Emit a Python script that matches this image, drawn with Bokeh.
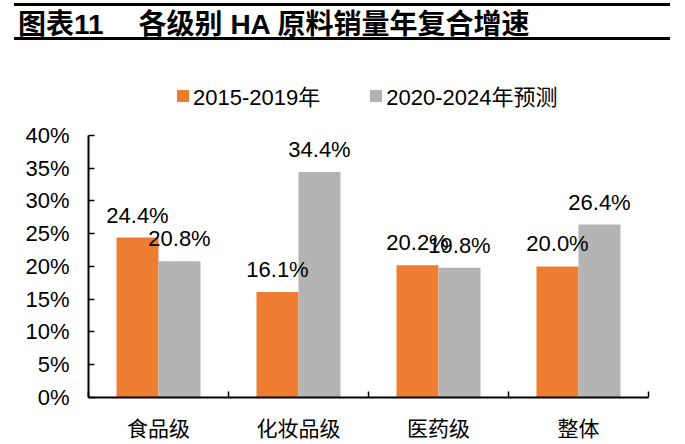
from bokeh.plotting import figure
from bokeh.models import (ColumnDataSource, FixedTicker, PrintfTickFormatter, LabelSet,
                          Legend, LegendItem, Div, Range1d)
from bokeh.layouts import column
from bokeh.core.properties import value
from bokeh.transform import dodge
from bokeh.embed import file_html
from bokeh.resources import INLINE

# ---------------- data ----------------
categories = ["食品级", "化妆品级", "医药级", "整体"]
series_names = ["2015-2019年", "2020-2024年预测"]
cagr_2015_2019 = [24.4, 16.1, 20.2, 20.0]
cagr_2020_2024 = [20.8, 34.4, 19.8, 26.4]
y_ticks = [0, 5, 10, 15, 20, 25, 30, 35, 40]
title_no = "图表11"
title_text = "各级别 HA 原料销量年复合增速"

# ---------------- style ----------------
ORANGE = "#ED7D31"
GRAY = "#B4B4B4"
FONT = "Liberation Sans, Noto Sans CJK SC"
Y_AXIS_MAX = 40
Y_VIEW_MAX = 49.6   # room above the axis for the legend

xs = [i + 0.5 for i in range(len(categories))]
src = ColumnDataSource(dict(
    x=xs,
    a=cagr_2015_2019,
    b=cagr_2020_2024,
    a_lbl=[f"{v:.1f}%" for v in cagr_2015_2019],
    b_lbl=[f"{v:.1f}%" for v in cagr_2020_2024],
))

p = figure(width=680, height=398,
           x_range=Range1d(0, len(categories)), y_range=Range1d(0, Y_VIEW_MAX),
           output_backend="svg", toolbar_location=None,
           min_border_left=88, min_border_right=32,
           min_border_top=26, min_border_bottom=46)
p.outline_line_color = None
p.xgrid.visible = False
p.ygrid.visible = False
p.background_fill_color = "white"
p.border_fill_color = "white"

r1 = p.vbar(x=dodge("x", -0.15), top="a", width=0.3, source=src,
            fill_color=ORANGE, line_color=None)
r2 = p.vbar(x=dodge("x", 0.15), top="b", width=0.3, source=src,
            fill_color=GRAY, line_color=None)

# y axis
ya = p.yaxis[0]
ya.ticker = FixedTicker(ticks=y_ticks)
ya.bounds = (0, Y_AXIS_MAX)
ya.formatter = PrintfTickFormatter(format="%d%%")
ya.axis_line_width = 2
ya.axis_line_color = "#000000"
ya.major_tick_in = 6
ya.major_tick_out = 0
ya.major_tick_line_width = 1.5
ya.major_tick_line_color = "#000000"
ya.minor_tick_line_color = None
ya.major_label_standoff = 19
ya.major_label_text_font = FONT
ya.major_label_text_font_size = "22px"
ya.major_label_text_color = "#000000"

# x axis: category labels at centres, tick marks at category boundaries
xa = p.xaxis[0]
xa.ticker = FixedTicker(ticks=xs, minor_ticks=list(range(len(categories) + 1)))
xa.major_label_overrides = {x: c for x, c in zip(xs, categories)}
xa.axis_line_width = 2
xa.axis_line_color = "#000000"
xa.major_tick_in = 0
xa.major_tick_out = 0
xa.major_tick_line_color = None
xa.minor_tick_in = 6
xa.minor_tick_out = 0
xa.minor_tick_line_width = 1.5
xa.minor_tick_line_color = "#000000"
xa.major_label_standoff = 14
xa.major_label_text_font = "Noto Sans CJK SC"
xa.major_label_text_font_size = "21px"
xa.major_label_text_color = "#000000"

# value labels
for col, lbl, off in (("a", "a_lbl", -0.15), ("b", "b_lbl", 0.15)):
    p.add_layout(LabelSet(x=dodge("x", off), y=col, text=lbl, source=src,
                          text_align="center", text_baseline="alphabetic",
                          y_offset=15, text_font=value(FONT),
                          text_font_size="22px", text_color="#000000"))

legend = Legend(items=[LegendItem(label=series_names[0], renderers=[r1]),
                       LegendItem(label=series_names[1], renderers=[r2])],
                location=(87, 286), orientation="horizontal",
                border_line_color=None, background_fill_alpha=0,
                padding=0, margin=0, spacing=48,
                glyph_width=15, glyph_height=15, label_standoff=3,
                label_text_font=FONT, label_text_font_size="22px",
                label_text_color="#000000")
p.add_layout(legend)

title_html = (
    '<div style="width:656px;height:37px;border-top:3px solid #000;'
    'border-bottom:3px solid #000;font-family:\'Liberation Sans\',\'Noto Sans CJK SC\',sans-serif;'
    'font-weight:bold;font-size:28px;line-height:37px;color:#000;white-space:nowrap;">'
    f'<span style="margin-left:4px">{title_no}</span>'
    f'<span style="margin-left:35px">{title_text}</span></div>'
)
div = Div(text=title_html, width=656, height=43, margin=(3, 0, 0, 14))

layout = column(div, p)
open("out.html", "w").write(file_html(layout, INLINE))
